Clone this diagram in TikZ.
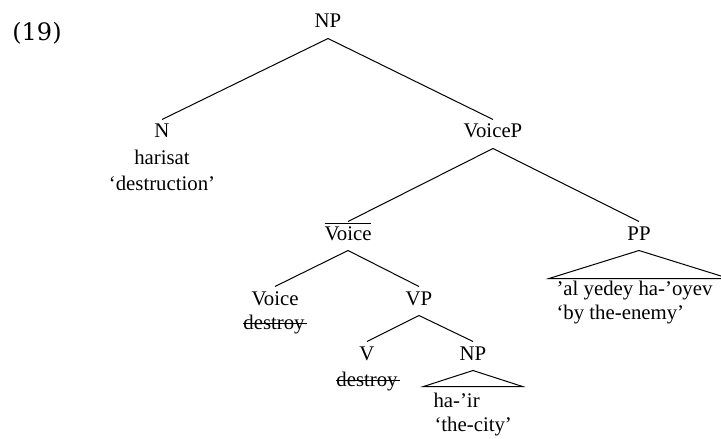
\documentclass[tikz,border=0pt]{standalone}
\usepackage{fontspec}
\setmainfont{Liberation Serif}
\newfontfamily\exfont{DejaVu Serif}
\newcommand{\strk}[1]{\setbox0=\hbox{#1}\rlap{\copy0}\rule[0.26em]{\dimexpr\wd0+1pt\relax}{0.45pt}}
\tikzset{
  cat/.style={anchor=base, inner sep=2pt, text height=7pt, text depth=3pt},
  wrd/.style={anchor=base, inner sep=1pt},
  roof/.style={anchor=base west, inner sep=0pt},
}
\begin{document}
\begin{tikzpicture}[x=0.5pt, y=-0.5pt, line width=0.5pt,
    every node/.append style={font=\fontsize{10.4}{12.5}\selectfont}]
    \useasboundingbox (0,0) rectangle (721,438);
    \node (ex) at (37, 33) {\exfont\fontsize{12}{14}\selectfont (19)};

    \node[cat] (np) at (328, 28) {NP};
    \node[cat] (n) at (162, 138) {N};
    \node[wrd] (harisat) at (162, 165) {harisat};
    \node[wrd] (destruction) at (162, 191) {`destruction'};
    \node[cat] (voicep) at (493, 138) {VoiceP};

    \node[cat] (voicebar) at (348, 240) {$\overline{\mbox{Voice}}$};
    \node[cat] (pp) at (639, 240) {PP};
    \node[roof] (alyedey) at (556, 295) {'al yedey ha-'oyev};
    \node[roof] (enemy) at (556, 319) {`by the-enemy'};

    \node[cat] (voice) at (275, 305) {Voice};
    \node[wrd] (destroya) at (275, 329) {\strk{destroy}};
    \node[cat] (vp) at (419, 305) {VP};
    \node[cat] (v) at (367, 360) {V};
    \node[wrd] (destroyb) at (368, 386) {\strk{destroy}};
    \node[cat] (npb) at (473, 360) {NP};
    \node[roof] (hair) at (433, 407) {ha-'ir};
    \node[roof] (city) at (434, 431) {`the-city'};

    % branches
    \draw (np.south) -- (n.north);
    \draw (np.south) -- (voicep.north);
    \draw (voicep.south) -- (voicebar.north);
    \draw (voicep.south) -- (pp.north);
    \draw (voicebar.south) -- (voice.north);
    \draw (voicebar.south) -- (vp.north);
    \draw (vp.south) -- (v.north);
    \draw (vp.south) -- (npb.north);

    % roofs
    \draw (pp.south) -- ++(-90, 28) -- ++(180, 0) -- cycle;
    \draw (npb.south) -- ++(-49.5, 16) -- ++(99, 0) -- cycle;
\end{tikzpicture}
\end{document}
